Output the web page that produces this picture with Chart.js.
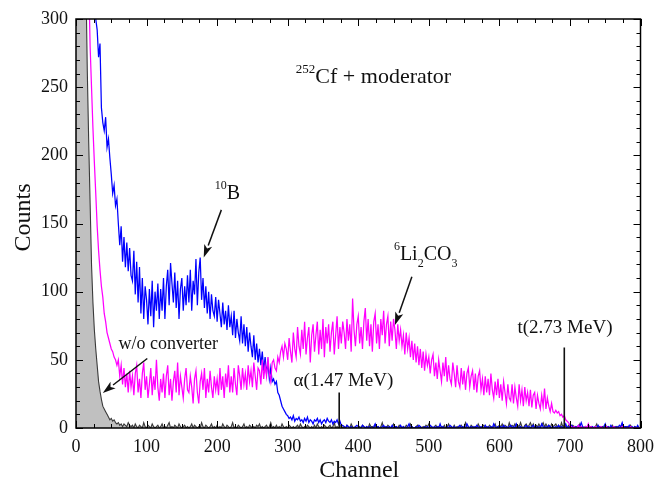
<!DOCTYPE html>
<html>
<head>
<meta charset="utf-8">
<script src="https://cdn.jsdelivr.net/npm/chart.js@4.4.1/dist/chart.umd.min.js"></script>
<style>
  html, body { margin: 0; padding: 0; background: #fff; }
  #wrap { width: 662px; height: 481px; }
</style>
</head>
<body>
<div id="wrap"><canvas id="spec" width="662" height="481"></canvas></div>
<script>
// Pulse-height spectra, one value every 2 channels
const channelStep = 2;

// 10B-coated detector (each row = 20 channels)
const countsB10 = [
  500, 495, 490, 480, 470, 460, 450, 440, 425, 410,
  390, 370, 350, 325, 300, 292, 272, 282, 235, 224,
  218, 228, 206, 212, 198, 186, 172, 178, 163, 168,
  150, 134, 148, 122, 140, 118, 136, 115, 132, 112,
  108, 130, 98, 122, 92, 118, 84, 110, 80, 104,
  94, 76, 102, 82, 108, 74, 100, 86, 106, 80,
  102, 86, 110, 80, 104, 116, 90, 121, 106, 92,
  114, 88, 108, 80, 102, 110, 86, 104, 90, 112,
  92, 116, 86, 108, 98, 124, 90, 114, 125, 94,
  110, 88, 104, 84, 100, 80, 98, 86, 82, 96,
  78, 94, 84, 74, 92, 76, 86, 72, 90, 74,
  82, 68, 86, 66, 80, 70, 64, 82, 62, 76,
  60, 74, 56, 70, 60, 52, 68, 50, 62, 48,
  58, 46, 56, 42, 52, 40, 48, 36, 44, 34,
  36, 32, 34, 26, 24, 20, 16, 14, 12, 10,
  9, 7, 8, 6, 9, 5, 7, 6, 8, 5,
  6, 4, 7, 5, 8, 4, 6, 5, 3, 6,
  5, 7, 4, 6, 3, 5, 6, 4, 7, 5,
  4, 6, 3, 5, 4, 6, 3, 5, 2, 2,
  1, 0, 2, 1, 0, 1, 0, 0, 1, 2,
  1, 0, 0, 2, 1, 0, 1, 0, 1, 0,
  0, 1, 3, 0, 1, 0, 0, 1, 2, 0,
  1, 0, 1, 0, 2, 0, 1, 1, 0, 0,
  2, 0, 1, 0, 0, 1, 3, 0, 1, 0,
  0, 1, 0, 2, 1, 0, 0, 1, 0, 1,
  0, 2, 1, 0, 1, 0, 1, 0, 3, 0,
  1, 0, 0, 1, 0, 2, 1, 0, 1, 0,
  0, 1, 2, 0, 1, 0, 0, 3, 1, 0,
  1, 0, 1, 0, 2, 1, 0, 1, 0, 0,
  2, 0, 1, 0, 1, 0, 3, 1, 0, 1,
  0, 1, 0, 2, 0, 1, 0, 1, 2, 0,
  1, 0, 3, 1, 0, 1, 0, 0, 1, 2,
  0, 1, 0, 1, 2, 0, 1, 0, 1, 0,
  3, 1, 0, 1, 0, 2, 1, 0, 1, 0,
  1, 0, 2, 0, 1, 0, 1, 3, 0, 1,
  0, 2, 1, 0, 1, 0, 2, 1, 4, 1,
  0, 1, 0, 2, 1, 0, 1, 0, 1, 0,
  2, 0, 1, 0, 1, 3, 0, 1, 0, 2,
  0, 1, 0, 1, 0, 2, 1, 4, 0, 1,
  1, 0, 2, 0, 1, 0, 1, 0, 2, 0
];

// 6Li2CO3 converter
const countsLi = [
  800, 760, 720, 660, 600, 540, 480, 420, 370, 330,
  280, 250, 220, 195, 172, 148, 130, 116, 104, 96,
  84, 78, 70, 66, 62, 58, 56, 52, 50, 46,
  50, 38, 46, 32, 44, 30, 40, 26, 42, 30,
  38, 24, 40, 46, 26, 36, 22, 40, 48, 28,
  38, 22, 32, 44, 24, 38, 28, 50, 30, 20,
  36, 26, 40, 22, 38, 46, 24, 36, 20, 34,
  42, 26, 48, 24, 38, 30, 22, 36, 44, 28,
  26, 38, 30, 18, 36, 42, 26, 18, 34, 40,
  28, 44, 22, 36, 26, 42, 30, 22, 38, 28,
  36, 24, 44, 28, 38, 22, 40, 30, 46, 26,
  38, 26, 44, 32, 24, 46, 38, 28, 44, 32,
  40, 28, 46, 34, 42, 30, 48, 38, 28, 44,
  42, 32, 50, 36, 46, 38, 52, 40, 34, 48,
  50, 44, 42, 52, 48, 56, 60, 52, 62, 58,
  50, 66, 56, 48, 70, 58, 52, 74, 60, 54,
  72, 58, 78, 54, 66, 74, 48, 68, 76, 56,
  68, 78, 54, 72, 58, 80, 52, 74, 62, 76,
  56, 70, 78, 54, 68, 82, 58, 74, 62, 78,
  70, 58, 80, 64, 76, 56, 95, 72, 60, 76,
  82, 62, 74, 58, 78, 88, 64, 80, 60, 76,
  56, 78, 84, 62, 76, 58, 80, 68, 86, 62,
  76, 82, 60, 78, 64, 80, 72, 58, 76, 64,
  72, 60, 68, 54, 70, 58, 66, 52, 64, 50,
  62, 48, 60, 46, 58, 44, 56, 42, 54, 46,
  52, 40, 50, 54, 38, 48, 36, 50, 42, 34,
  48, 38, 52, 34, 46, 36, 32, 48, 40, 30,
  46, 34, 30, 44, 32, 42, 28, 40, 44, 30,
  38, 42, 28, 40, 26, 38, 42, 28, 36, 24,
  38, 26, 36, 24, 40, 28, 22, 34, 24, 36,
  22, 32, 20, 34, 26, 18, 32, 22, 20, 32,
  18, 30, 22, 16, 32, 20, 28, 16, 30, 20,
  26, 16, 28, 15, 24, 26, 14, 24, 18, 14,
  24, 16, 29, 14, 22, 16, 12, 18, 12, 11,
  13, 11, 12, 9, 10, 8, 9, 6, 5, 4,
  2, 1, 0, 1, 0, 0, 2, 0, 1, 0,
  0, 1, 0, 3, 0, 1, 0, 0, 1, 0,
  0, 0, 1, 0, 0, 0, 1, 0, 0, 0,
  0, 1, 0, 0, 0, 0, 0, 1, 0, 0,
  0, 0, 0, 1, 0, 0, 0, 0, 0, 0
];

// bare detector, no converter
const countsBare = [
  1000, 950, 880, 760, 620, 500, 410, 330, 262, 210,
  165, 120, 92, 72, 58, 46, 34, 27, 21, 16,
  14, 12, 10, 8, 6, 7, 5, 6, 4, 3,
  4, 2, 3, 1, 3, 2, 1, 4, 2, 1,
  2, 0, 3, 1, 0, 2, 1, 0, 4, 1,
  0, 2, 1, 0, 3, 1, 0, 1, 2, 0,
  1, 3, 0, 1, 0, 2, 4, 0, 1, 0,
  2, 1, 0, 3, 1, 0, 1, 2, 0, 1,
  0, 1, 3, 0, 2, 1, 0, 1, 0, 4,
  1, 0, 2, 1, 0, 1, 3, 0, 1, 0,
  2, 0, 1, 0, 3, 1, 0, 2, 1, 0,
  1, 4, 0, 1, 0, 2, 1, 0, 1, 3,
  0, 1, 0, 2, 1, 0, 1, 0, 2, 1,
  3, 0, 1, 0, 1, 2, 0, 1, 4, 0,
  1, 0, 2, 0, 1, 0, 3, 1, 0, 1,
  0, 2, 1, 0, 1, 0, 1, 2, 0, 3,
  1, 0, 1, 0, 2, 1, 0, 1, 0, 2,
  0, 3, 1, 0, 1, 0, 2, 1, 0, 1,
  2, 0, 1, 4, 0, 1, 0, 1, 2, 0,
  1, 0, 2, 1, 0, 3, 1, 0, 1, 0,
  0, 1, 0, 2, 1, 0, 1, 0, 3, 1,
  1, 0, 2, 0, 1, 0, 1, 4, 0, 1,
  0, 2, 1, 0, 1, 3, 0, 1, 0, 2,
  1, 0, 1, 0, 2, 1, 0, 3, 1, 0,
  0, 1, 2, 0, 1, 0, 1, 0, 2, 1,
  3, 0, 1, 0, 1, 2, 0, 1, 0, 1,
  0, 2, 0, 1, 3, 0, 1, 0, 2, 0,
  1, 0, 1, 2, 0, 1, 4, 0, 1, 0,
  2, 1, 0, 1, 0, 3, 1, 0, 1, 2,
  0, 1, 0, 2, 1, 0, 1, 3, 0, 1,
  2, 1, 3, 0, 2, 1, 0, 4, 1, 2,
  1, 3, 0, 2, 1, 4, 1, 0, 2, 3,
  1, 2, 4, 1, 3, 0, 2, 1, 3, 1,
  2, 4, 1, 3, 1, 2, 0, 3, 1, 2,
  3, 1, 2, 0, 4, 1, 2, 1, 0, 2,
  1, 0, 2, 1, 0, 1, 0, 3, 0, 1,
  0, 1, 0, 2, 0, 1, 0, 0, 1, 3,
  0, 1, 0, 1, 0, 2, 0, 1, 0, 0,
  2, 0, 1, 0, 1, 0, 0, 3, 0, 1,
  0, 1, 0, 2, 0, 0, 1, 0, 1, 0
];

// alpha and triton end-point markers
const markerChannels = [373, 692];
const markerHeights = [26, 59];
const markerLabels = ['\u03b1(1.47 MeV)', 't(2.73 MeV)'];

// axes
const xTickValues = [0, 100, 200, 300, 400, 500, 600, 700, 800];
const yTickValues = [0, 50, 100, 150, 200, 250, 300];
const xMinorStep = 25;
const yMinorStep = 10;

const SERIF = '"Liberation Serif", "Times New Roman", serif';

function toPoints(values) {
  return values.map((v, i) => ({ x: i * channelStep, y: v }));
}

function markerDataset(i) {
  return {
    label: markerLabels[i],
    data: [{ x: markerChannels[i], y: 0 }, { x: markerChannels[i], y: markerHeights[i] }],
    borderColor: '#111',
    borderWidth: 1.6,
    pointRadius: 0,
    order: 0
  };
}

// text with super/subscripts: segments are [text, 'sup' | 'sub' | '']
function drawRich(ctx, segs, x, y, size, align) {
  const small = Math.round(size * 0.6);
  const widths = segs.map(([t, k]) => {
    ctx.font = (k ? small : size) + 'px ' + SERIF;
    return ctx.measureText(t).width;
  });
  const total = widths.reduce((a, b) => a + b, 0);
  let cx = align === 'center' ? x - total / 2 : x;
  ctx.textBaseline = 'alphabetic';
  ctx.textAlign = 'left';
  segs.forEach(([t, k], i) => {
    ctx.font = (k ? small : size) + 'px ' + SERIF;
    const dy = k === 'sup' ? -size * 0.48 : k === 'sub' ? size * 0.35 : 0;
    ctx.fillText(t, cx, y + dy);
    cx += widths[i];
  });
}

function arrow(ctx, x0, y0, x1, y1) {
  const ang = Math.atan2(y1 - y0, x1 - x0);
  const head = 13, half = 4.2;
  const bx = x1 - head * Math.cos(ang), by = y1 - head * Math.sin(ang);
  ctx.beginPath();
  ctx.moveTo(x0, y0);
  ctx.lineTo(bx, by);
  ctx.lineWidth = 1.5;
  ctx.stroke();
  ctx.beginPath();
  ctx.moveTo(x1, y1);
  ctx.lineTo(bx + half * Math.sin(ang), by - half * Math.cos(ang));
  ctx.lineTo(bx + head * 0.25 * Math.cos(ang), by + head * 0.25 * Math.sin(ang));
  ctx.lineTo(bx - half * Math.sin(ang), by + half * Math.cos(ang));
  ctx.closePath();
  ctx.fill();
}

// annotations placed in data coordinates
const notes = [
  { segs: [['252', 'sup'], ['Cf + moderator', '']], ch: 311.6, c: 253, size: 22 },
  { segs: [['10', 'sup'], ['B', '']], ch: 196.5, c: 168, size: 20 },
  { segs: [['6', 'sup'], ['Li', ''], ['2', 'sub'], ['CO', ''], ['3', 'sub']], ch: 450.5, c: 123.2, size: 20 },
  { segs: [['w/o converter', '']], ch: 60.4, c: 58, size: 18 },
  { segs: [[markerLabels[0], '']], ch: 379, c: 30.5, size: 19, align: 'center' },
  { segs: [[markerLabels[1], '']], ch: 693, c: 70, size: 19, align: 'center' }
];
const arrows = [
  [206, 160, 181, 125],
  [476, 111, 452, 75.5],
  [101, 51, 38, 25.7]
];

const framePlugin = {
  id: 'frameAndNotes',
  afterDatasetsDraw(chart) {
    const { ctx, chartArea: a, scales: { x, y } } = chart;
    ctx.save();
    ctx.strokeStyle = '#000';
    ctx.fillStyle = '#000';
    ctx.lineWidth = 1;
    const seg = (x0, y0, x1, y1) => { ctx.beginPath(); ctx.moveTo(x0, y0); ctx.lineTo(x1, y1); ctx.stroke(); };
    for (let v = x.min; v <= x.max; v += xMinorStep) {
      const px = Math.round(x.getPixelForValue(v)) + 0.5;
      const len = xTickValues.includes(v) ? 7 : 4;
      seg(px, a.bottom, px, a.bottom - len);
      seg(px, a.top, px, a.top + len);
    }
    for (let v = y.min; v <= y.max; v += yMinorStep) {
      const py = Math.round(y.getPixelForValue(v)) + 0.5;
      const len = yTickValues.includes(v) ? 7 : 4;
      seg(a.left, py, a.left + len, py);
      seg(a.right, py, a.right - len, py);
    }
    ctx.lineWidth = 1.5;
    ctx.strokeRect(a.left, a.top, a.right - a.left, a.bottom - a.top);

    ctx.fillStyle = '#111';
    ctx.strokeStyle = '#111';
    notes.forEach(n => drawRich(ctx, n.segs, x.getPixelForValue(n.ch), y.getPixelForValue(n.c), n.size, n.align));
    arrows.forEach(([c0, v0, c1, v1]) =>
      arrow(ctx, x.getPixelForValue(c0), y.getPixelForValue(v0), x.getPixelForValue(c1), y.getPixelForValue(v1)));

    // axis titles
    ctx.font = '24px ' + SERIF;
    ctx.textAlign = 'center';
    ctx.textBaseline = 'alphabetic';
    ctx.fillText('Channel', (a.left + a.right) / 2 + 1, 477);
    ctx.save();
    ctx.translate(30, (a.top + a.bottom) / 2 - 6);
    ctx.rotate(-Math.PI / 2);
    ctx.fillText('Counts', 0, 0);
    ctx.restore();
    ctx.restore();
  }
};

new Chart(document.getElementById('spec'), {
  type: 'line',
  data: {
    datasets: [
      markerDataset(0),
      markerDataset(1),
      {
        label: '6Li2CO3',
        data: toPoints(countsLi),
        borderColor: '#ff00ff',
        borderWidth: 1.25,
        pointRadius: 0,
        order: 1
      },
      {
        label: '10B',
        data: toPoints(countsB10),
        borderColor: '#0000ff',
        borderWidth: 1.25,
        pointRadius: 0,
        order: 2
      },
      {
        label: 'w/o converter',
        data: toPoints(countsBare),
        borderColor: '#3a3a3a',
        backgroundColor: '#c0c0c0',
        borderWidth: 1.1,
        pointRadius: 0,
        fill: 'origin',
        order: 3
      }
    ]
  },
  options: {
    responsive: false,
    animation: false,
    events: [],
    layout: { padding: { top: 19, right: 16, left: 0, bottom: 0 } },
    elements: { line: { tension: 0 } },
    plugins: { legend: { display: false }, tooltip: { enabled: false } },
    scales: {
      x: {
        type: 'linear',
        min: 0,
        max: 800,
        afterBuildTicks(s) { s.ticks = xTickValues.map(v => ({ value: v })); },
        afterFit(s) { s.height = 53; },
        grid: { display: false, drawTicks: false },
        border: { display: false },
        ticks: { color: '#111', padding: 8, maxRotation: 0, autoSkip: false, font: { family: SERIF, size: 18 } }
      },
      y: {
        type: 'linear',
        min: 0,
        max: 300,
        afterBuildTicks(s) { s.ticks = yTickValues.map(v => ({ value: v })); },
        afterFit(s) { s.width = 76; },
        grid: { display: false, drawTicks: false },
        border: { display: false },
        ticks: { color: '#111', padding: 8, autoSkip: false, font: { family: SERIF, size: 18 } }
      }
    }
  },
  plugins: [framePlugin]
});
</script>
</body>
</html>
